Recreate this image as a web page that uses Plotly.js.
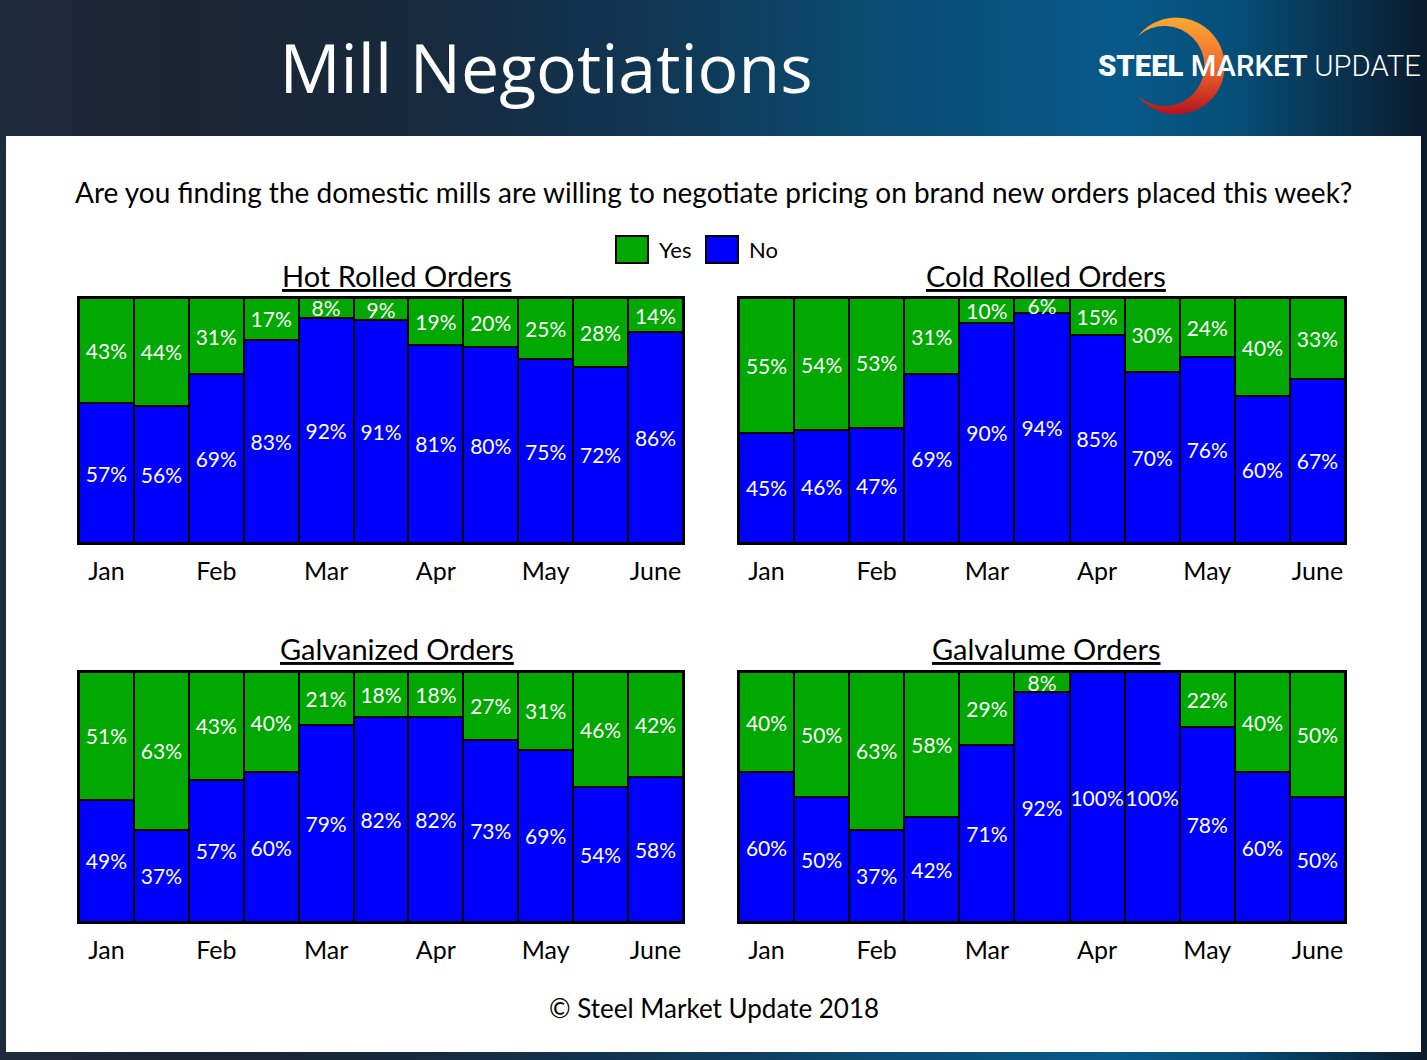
<!DOCTYPE html>
<html>
<head>
<meta charset="utf-8">
<script src="https://cdn.plot.ly/plotly-3.0.1.min.js"></script>
<style>
  html, body { margin: 0; padding: 0; }
  body {
    width: 1427px; height: 1060px; overflow: hidden; position: relative;
    background: linear-gradient(to right, #1e2a3e 0%, #1a2433 12%, #172a3e 30%, #113552 45%, #0b4a70 60%, #06598a 78%, #06507a 86%, #0a1b2d 100%);
  }
  #title {
    position: absolute; left: 0; top: 32px; width: 1092px;
    text-align: center; color: #fff;
    font-family: "Open Sans", sans-serif; font-size: 68px; line-height: 70px;
  }
  #logo { position: absolute; left: 1090px; top: 0; }
  #chart { position: absolute; left: 6px; top: 136px; width: 1415px; height: 916px; background: #fff; }
</style>
</head>
<body>
<div id="title">Mill Negotiations</div>
<svg id="logo" width="337" height="126">
  <defs>
    <linearGradient id="arc" x1="0" y1="0" x2="0" y2="1">
      <stop offset="0" stop-color="#f9a834"/>
      <stop offset="0.5" stop-color="#f26a2a"/>
      <stop offset="1" stop-color="#b3121c"/>
    </linearGradient>
  </defs>
  <path d="M48,36 A48.5,48.5 0 1,1 48,96 A40,40 0 1,0 48,36 Z" fill="url(#arc)"/>
  <text x="8" y="76" fill="#fff" font-family="Roboto, sans-serif" font-size="30" textLength="323" lengthAdjust="spacingAndGlyphs"><tspan font-weight="900">STEEL </tspan><tspan font-weight="500">MARKET </tspan><tspan font-weight="300">UPDATE</tspan></text>
</svg>
<div id="chart"></div>
<script>
// Данные: доля ответов по неделям (Yes / No), %
const months = ["Jan", "Feb", "Mar", "Apr", "May", "June"];
const weeks = [0, 1, 2, 3, 4, 5, 6, 7, 8, 9, 10];
const monthTicks = [0, 2, 4, 6, 8, 10];

const hotYes = [43, 44, 31, 17, 8, 9, 19, 20, 25, 28, 14];
const hotNo = [57, 56, 69, 83, 92, 91, 81, 80, 75, 72, 86];

const coldYes = [55, 54, 53, 31, 10, 6, 15, 30, 24, 40, 33];
const coldNo = [45, 46, 47, 69, 90, 94, 85, 70, 76, 60, 67];

const galvYes = [51, 63, 43, 40, 21, 18, 18, 27, 31, 46, 42];
const galvNo = [49, 37, 57, 60, 79, 82, 82, 73, 69, 54, 58];

const galvalumeYes = [40, 50, 63, 58, 29, 8, 0, 0, 22, 40, 50];
const galvalumeNo = [60, 50, 37, 42, 71, 92, 100, 100, 78, 60, 50];

const panels = [
  { title: "Hot Rolled Orders", yes: hotYes, no: hotNo },
  { title: "Cold Rolled Orders", yes: coldYes, no: coldNo },
  { title: "Galvanized Orders", yes: galvYes, no: galvNo },
  { title: "Galvalume Orders", yes: galvalumeYes, no: galvalumeNo },
];

const GREEN = "#00a800";
const BLUE = "#0000ff";
const FONT = "Lato, 'Open Sans', sans-serif";

// домены подграфиков
const xDomains = [[0.0516, 0.4784], [0.518, 0.9463], [0.0516, 0.4784], [0.518, 0.9463]];
const yDomains = [[0.5557, 0.8231], [0.5557, 0.8231], [0.1419, 0.4148], [0.1419, 0.4148]];
const titlePos = [[0.2763, 0.8472], [0.735, 0.8472], [0.2763, 0.44], [0.735, 0.44]];

function pct(arr) {
  return arr.map((v) => (v > 0 ? v + "%" : ""));
}

// Легенда (крупные квадраты, как в оригинале)
const legendItems = [
  { name: "Yes", color: GREEN, x0: 0.4311, x1: 0.4537, tx: 0.4600 },
  { name: "No", color: BLUE, x0: 0.4947, x1: 0.5173, tx: 0.5237 },
];

let traces = [];
let layout = {
  width: 1415,
  height: 916,
  margin: { l: 0, r: 0, t: 0, b: 0 },
  paper_bgcolor: "#ffffff",
  plot_bgcolor: "#ffffff",
  barmode: "stack",
  bargap: 0,
  showlegend: false,
  shapes: [],
  annotations: [
    {
      text: "Are you finding the domestic mills are willing to negotiate pricing on brand new orders placed this week?",
      xref: "paper", yref: "paper", x: 0.5, y: 0.9389,
      xanchor: "center", yanchor: "middle", showarrow: false,
      font: { family: FONT, size: 28, color: "#000" },
    },
    {
      text: "© Steel Market Update 2018",
      xref: "paper", yref: "paper", x: 0.5, y: 0.048,
      xanchor: "center", yanchor: "middle", showarrow: false,
      font: { family: FONT, size: 26, color: "#000" },
    },
  ],
};

for (let item of legendItems) {
  layout.shapes.push({
    type: "rect", xref: "paper", yref: "paper",
    x0: item.x0, x1: item.x1, y0: 0.8614, y1: 0.8908,
    fillcolor: item.color, line: { color: "#000", width: 2 },
  });
  layout.annotations.push({
    text: item.name, xref: "paper", yref: "paper",
    x: item.tx, y: 0.8761, xanchor: "left", yanchor: "middle", showarrow: false,
    font: { family: FONT, size: 22, color: "#000" },
  });
}

panels.forEach((p, i) => {
  const n = i === 0 ? "" : String(i + 1);
  const common = {
    type: "bar",
    x: weeks,
    xaxis: "x" + n,
    yaxis: "y" + n,
    textposition: "inside",
    insidetextanchor: "middle",
    textangle: 0,
    constraintext: "none",
    textfont: { family: FONT, size: 21, color: "#ffffff" },
    hoverinfo: "skip",
  };
  traces.push(Object.assign({}, common, {
    name: "No", y: p.no, text: pct(p.no),
    marker: { color: BLUE, line: { color: "#000", width: 2 } },
  }));
  traces.push(Object.assign({}, common, {
    name: "Yes", y: p.yes, text: pct(p.yes),
    marker: { color: GREEN, line: { color: "#000", width: 2 } },
  }));

  layout["xaxis" + n] = {
    domain: xDomains[i],
    anchor: "y" + n,
    range: [-0.5, 10.5],
    tickvals: monthTicks,
    ticktext: months,
    ticks: "outside",
    ticklen: 5,
    tickcolor: "rgba(0,0,0,0)",
    tickfont: { family: FONT, size: 25, color: "#000" },
    showgrid: false,
    zeroline: false,
    showline: true,
    mirror: true,
    linecolor: "#000",
    linewidth: 2,
    fixedrange: true,
  };
  layout["yaxis" + n] = {
    domain: yDomains[i],
    anchor: "x" + n,
    range: [0, 100],
    showticklabels: false,
    ticks: "",
    showgrid: false,
    zeroline: false,
    showline: true,
    mirror: true,
    linecolor: "#000",
    linewidth: 2,
    fixedrange: true,
  };

  layout.annotations.push({
    text: "<u>" + p.title + "</u>",
    xref: "paper", yref: "paper",
    x: titlePos[i][0], y: titlePos[i][1],
    xanchor: "center", yanchor: "middle", showarrow: false,
    font: { family: FONT, size: 29, color: "#000" },
  });
});

Plotly.newPlot("chart", traces, layout, { displayModeBar: false, staticPlot: true });
</script>
</body>
</html>
